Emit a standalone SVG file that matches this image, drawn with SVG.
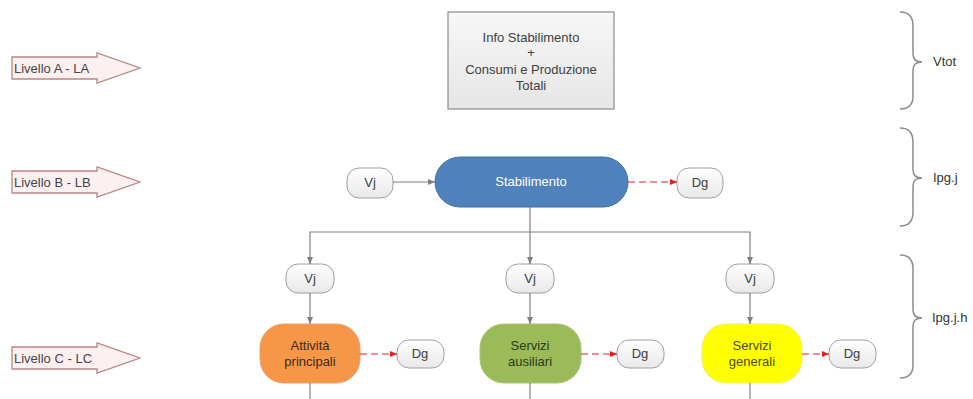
<svg xmlns="http://www.w3.org/2000/svg" width="973" height="399" viewBox="0 0 973 399">
<defs>
<linearGradient id="gbox" x1="0" y1="0" x2="0" y2="1"><stop offset="0" stop-color="#f7f7f7"/><stop offset="1" stop-color="#e6e6e6"/></linearGradient>
<linearGradient id="gpill" x1="0" y1="0" x2="0" y2="1"><stop offset="0" stop-color="#ffffff"/><stop offset="1" stop-color="#e8e8e8"/></linearGradient>
<marker id="ag" markerUnits="userSpaceOnUse" markerWidth="8" markerHeight="8" refX="7" refY="4" orient="auto"><path d="M0,1 L7,4 L0,7 Z" fill="#7f7f7f"/></marker>
<marker id="ar" markerUnits="userSpaceOnUse" markerWidth="8" markerHeight="8" refX="7" refY="4" orient="auto"><path d="M0,1 L7,4 L0,7 Z" fill="#e02020"/></marker>
</defs>
<style>
text{font-family:"Liberation Sans",Arial,sans-serif;font-size:13px;fill:#404040;text-anchor:middle}
.lvl{fill:#fcf0f0;stroke:#b98585;stroke-width:1.3}
.lvlt{font-size:13px;text-anchor:start;fill:#444}
.pill{fill:url(#gpill);stroke:#a0a0a0;stroke-width:1}
.c{fill:none;stroke:#7f7f7f;stroke-width:1.2}
.d{fill:none;stroke:#e02020;stroke-width:1.2;stroke-dasharray:7,4}
.br{fill:none;stroke:#8c8c8c;stroke-width:1.5}
.bt{text-anchor:start;fill:#333}
</style>

<g id="livelloA"><path class="lvl" d="M12,57 H97 V53 L140,68 L97,83 V79 H12 Z"/><text class="lvlt" x="14" y="73">Livello A - LA</text></g>
<g id="livelloB"><path class="lvl" d="M12,171 H97 V167 L140,182 L97,197 V193 H12 Z"/><text class="lvlt" x="14" y="187">Livello B - LB</text></g>
<g id="livelloC"><path class="lvl" d="M12,347 H97 V343 L140,358 L97,373 V369 H12 Z"/><text class="lvlt" x="14" y="363">Livello C - LC</text></g>

<g id="info"><rect x="448" y="12" width="166" height="97" fill="url(#gbox)" stroke="#8a8a8a" stroke-width="1.2"/>
<text x="531" y="42">Info Stabilimento</text><text x="531" y="57">+</text><text x="531" y="74">Consumi e Produzione</text><text x="531" y="90">Totali</text></g>

<g id="stabilimento"><rect x="435" y="157" width="193" height="50" rx="25" fill="#4f81bd" stroke="#41719c" stroke-width="1"/><text x="531" y="186" style="fill:#ffffff">Stabilimento</text></g>
<g id="vjB"><rect class="pill" x="347" y="168" width="46" height="30" rx="12"/><text x="370" y="187">Vj</text></g>
<g id="dgB"><rect class="pill" x="677" y="168" width="46" height="30" rx="12"/><text x="700" y="187">Dg</text></g>

<g id="vjC1"><rect class="pill" x="286" y="264" width="48" height="29" rx="12"/><text x="310" y="283">Vj</text></g>
<g id="vjC2"><rect class="pill" x="506" y="264" width="48" height="29" rx="12"/><text x="530" y="283">Vj</text></g>
<g id="vjC3"><rect class="pill" x="726" y="264" width="48" height="29" rx="12"/><text x="750" y="283">Vj</text></g>

<g id="attivita"><rect x="260" y="324" width="100" height="59" rx="24" fill="#f79646" stroke="#e8a070" stroke-width="1"/><text x="310" y="350" style="fill:#3a2a1a">Attività</text><text x="310" y="366" style="fill:#3a2a1a">principali</text></g>
<g id="ausiliari"><rect x="480" y="324" width="101" height="59" rx="24" fill="#9bbb59" stroke="#a8c478" stroke-width="1"/><text x="530" y="350" style="fill:#2a3a1a">Servizi</text><text x="530" y="366" style="fill:#2a3a1a">ausiliari</text></g>
<g id="generali"><rect x="702" y="324" width="100" height="59" rx="24" fill="#ffff00" stroke="#f0f070" stroke-width="1"/><text x="752" y="350" style="fill:#4a4a10">Servizi</text><text x="752" y="366" style="fill:#4a4a10">generali</text></g>

<g id="dgC1"><rect class="pill" x="397" y="340" width="47" height="28" rx="12"/><text x="420" y="358">Dg</text></g>
<g id="dgC2"><rect class="pill" x="617" y="340" width="47" height="28" rx="12"/><text x="640" y="358">Dg</text></g>
<g id="dgC3"><rect class="pill" x="829" y="340" width="47" height="28" rx="12"/><text x="852" y="358">Dg</text></g>

<g id="braces">
<path class="br" d="M900,12 Q913,12 913,26 V54 Q913,62 922,62 Q913,62 913,70 V96 Q913,109 900,109"/>
<text class="bt" x="933" y="66">Vtot</text>
<path class="br" d="M900,128 Q913,128 913,142 V170 Q913,178 922,178 Q913,178 913,186 V212 Q913,226 900,226"/>
<text class="bt" x="933" y="182">Ipg.j</text>
<path class="br" d="M900,255 Q913,255 913,269 V310 Q913,318 922,318 Q913,318 913,326 V365 Q913,378 900,378"/>
<text class="bt" x="932" y="322">Ipg.j.h</text>
</g>

<g id="connectors">
<path class="c" d="M393,182 H435" marker-end="url(#ag)"/>
<path class="d" d="M628,182 H677" marker-end="url(#ar)"/>
<path class="c" d="M530,207 V232 H310 V264" marker-end="url(#ag)"/>
<path class="c" d="M530,232 V264" marker-end="url(#ag)"/>
<path class="c" d="M530,232 H750 V264" marker-end="url(#ag)"/>
<path class="c" d="M310,293 V324" marker-end="url(#ag)"/>
<path class="c" d="M530,293 V324" marker-end="url(#ag)"/>
<path class="c" d="M750,293 V324" marker-end="url(#ag)"/>
<path class="d" d="M360,354 H397" marker-end="url(#ar)"/>
<path class="d" d="M581,354 H617" marker-end="url(#ar)"/>
<path class="d" d="M802,354 H829" marker-end="url(#ar)"/>
<path class="c" d="M310,383 V399"/>
<path class="c" d="M530,383 V399"/>
<path class="c" d="M750,383 V399"/>
</g>
</svg>
